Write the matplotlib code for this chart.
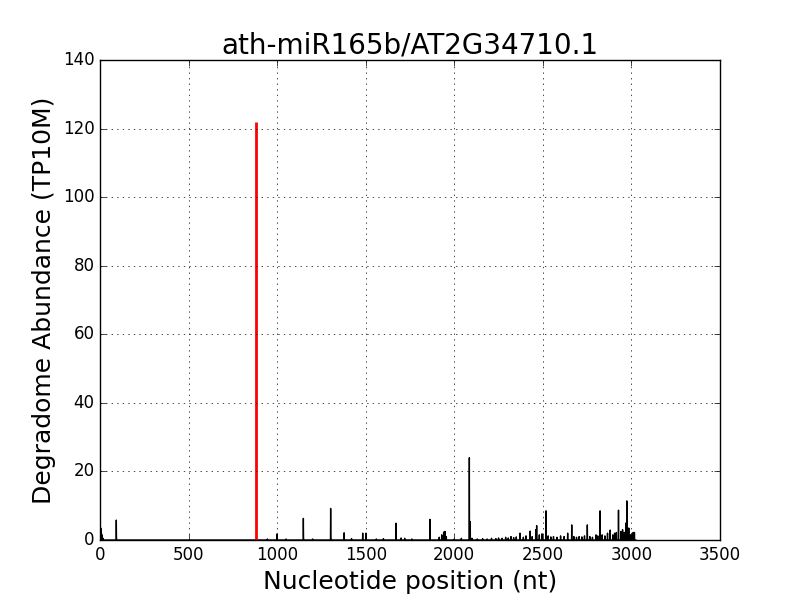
import numpy as np
import matplotlib
matplotlib.use('Agg')
import matplotlib.pyplot as plt

plt.style.use('classic')

title = 'ath-miR165b/AT2G34710.1'
transcript_length = 3025
cleavage_site = 882
cleavage_value = 122

# degradome peaks (position, abundance)
peak_pos = [4, 5, 6, 8, 10, 12, 15, 18, 92, 93, 945, 1000, 1050, 1148, 1149, 1200,
            1302, 1303, 1378, 1420, 1483, 1502, 1560, 1600, 1671, 1672, 1700,
            1720, 1760, 1863, 1864, 1915, 1929, 1940, 1948, 1955, 2000, 2040,
            2085, 2090, 2100]
peak_val = [3.5, 3.2, 2.6, 2.0, 1.5, 1.0, 0.6, 0.4, 5.8, 0.8, 0.3, 1.8, 0.3, 6.3, 0.8, 0.3,
            9.2, 1.2, 2.1, 0.4, 2.0, 2.0, 0.3, 0.4, 4.9, 1.0, 0.6,
            0.5, 0.3, 6.0, 0.9, 0.8, 1.5, 2.3, 2.5, 1.0, 0.3, 0.5,
            24.0, 5.3, 0.5]

# low-level signal along the 3' part of the transcript
tail_pos = [2130, 2160, 2185, 2210, 2235, 2250, 2270, 2290, 2305, 2320, 2335, 2350,
            2371, 2390, 2405, 2428, 2440, 2460, 2465, 2480, 2495, 2518, 2530, 2545,
            2560, 2580, 2600, 2620, 2640, 2663, 2675, 2690, 2705, 2720, 2735, 2751,
            2765, 2780, 2800, 2810, 2823, 2835, 2850, 2865, 2880, 2895, 2905, 2915,
            2927, 2940, 2950, 2960, 2970, 2974, 2985, 2995, 3005, 3011, 3017]
tail_val = [0.3, 0.4, 0.3, 0.5, 0.4, 0.6, 0.5, 0.8, 0.6, 1.0, 0.7, 0.9,
            2.0, 0.8, 1.2, 2.6, 1.0, 3.0, 4.2, 1.5, 1.8, 8.5, 1.2, 0.9,
            1.0, 0.8, 1.2, 1.0, 2.0, 4.4, 1.0, 0.8, 1.0, 0.9, 1.2, 4.4,
            1.0, 0.8, 1.5, 1.2, 8.5, 1.5, 1.2, 2.0, 2.9, 1.5, 2.0, 2.2,
            8.7, 2.5, 3.0, 2.2, 5.0, 11.4, 3.5, 1.5, 2.0, 2.2, 2.2]

abundance = np.zeros(transcript_length)
abundance[peak_pos] = peak_val
abundance[tail_pos] = tail_val

fig = plt.figure(figsize=(8, 6), dpi=100)
ax = fig.add_subplot(111)
ax.plot(np.arange(transcript_length), abundance, color='k', linewidth=1)
ax.vlines(cleavage_site, 0, cleavage_value, color='r', linewidth=2)

ax.set_xlim(0, 3500)
ax.set_ylim(0, 140)
ax.grid(True)
ax.set_title(title, fontsize=20)
ax.set_xlabel('Nucleotide position (nt)', fontsize=18)
ax.set_ylabel('Degradome Abundance (TP10M)', fontsize=18)

fig.savefig('out.png', dpi=100, facecolor='white')
